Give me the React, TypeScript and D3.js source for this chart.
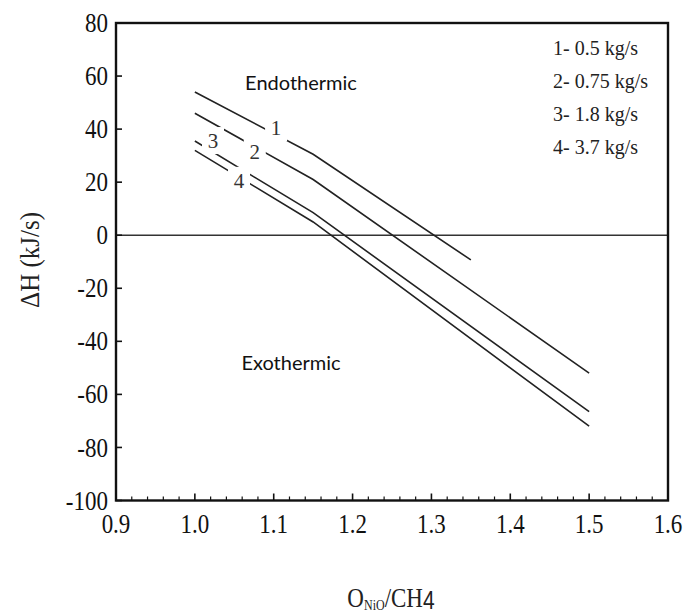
import React from "react";
import * as d3 from "d3";

const xTicks = [0.9, 1.0, 1.1, 1.2, 1.3, 1.4, 1.5, 1.6];
const yTicks = [80, 60, 40, 20, 0, -20, -40, -60, -80, -100];

const series1X = [1.0, 1.15, 1.35];
const series1Y = [54, 30.5, -9.3];
const series2X = [1.0, 1.15, 1.5];
const series2Y = [46, 21, -52];
const series3X = [1.0, 1.15, 1.5];
const series3Y = [35.5, 8.5, -66.5];
const series4X = [1.0, 1.15, 1.5];
const series4Y = [32, 5, -72];

const curveLabels = ["1", "2", "3", "4"];
const curveLabelX = [1.103, 1.076, 1.023, 1.056];
const curveLabelY = [40.4, 31.4, 35.5, 20.5];

const legendItems = ["1- 0.5 kg/s", "2- 0.75 kg/s", "3- 1.8 kg/s", "4- 3.7 kg/s"];

export default function App() {
  const W = 687, H = 615;
  const left = 116, right = 668, top = 23, bottom = 500.5;
  const x = d3.scaleLinear().domain([0.9, 1.6]).range([left, right]);
  const y = d3.scaleLinear().domain([-100, 80]).range([bottom, top]);
  const line = d3.line<[number, number]>().x(d => x(d[0])).y(d => y(d[1]));

  const seriesX = [series1X, series2X, series3X, series4X];
  const seriesY = [series1Y, series2Y, series3Y, series4Y];
  const paths = seriesX.map((xs, i) => line(xs.map((v, j) => [v, seriesY[i][j]]) as [number, number][]));

  const minorTicks = d3.range(0, 36).map(i => 0.9 + i * 0.02).filter(v => Math.abs(Math.round(v * 10) - v * 10) > 1e-6);

  const serif = "'Liberation Serif', 'Times New Roman', serif";
  const sans = "Lato, 'Open Sans', sans-serif";

  return (
    <svg width={W} height={H} style={{ position: "absolute", left: 0, top: 0, display: "block", background: "#fff" }}>
      <line x1={left} x2={right} y1={y(0)} y2={y(0)} stroke="#333" strokeWidth={1.5} />
      {paths.map((p, i) => (
        <path key={i} d={p || ""} fill="none" stroke="#222" strokeWidth={1.6} />
      ))}
      {curveLabels.map((t, i) => (
        <g key={t}>
          <rect x={x(curveLabelX[i]) - 11} y={y(curveLabelY[i]) - 14} width={22} height={27} fill="#fff" />
          <text x={x(curveLabelX[i])} y={y(curveLabelY[i])} textAnchor="middle" dominantBaseline="central"
            fontFamily={serif} fontSize={21} fill="#333">{t}</text>
        </g>
      ))}
      <rect x={left} y={top} width={right - left} height={bottom - top} fill="none" stroke="#111" strokeWidth={2.4} />
      {yTicks.map(v => (
        <g key={v}>
          <line x1={left} x2={left + 6} y1={y(v)} y2={y(v)} stroke="#111" strokeWidth={1.6} />
          <text transform={`translate(108, ${y(v)}) scale(1, 1.15)`} textAnchor="end" dominantBaseline="central"
            fontFamily={serif} fontSize={23} fill="#111">{v}</text>
        </g>
      ))}
      {xTicks.map(v => (
        <g key={v}>
          <line x1={x(v)} x2={x(v)} y1={bottom} y2={bottom - 7} stroke="#111" strokeWidth={1.6} />
          <text transform={`translate(${x(v)}, 524) scale(1, 1.15)`} textAnchor="middle" dominantBaseline="central"
            fontFamily={serif} fontSize={23} fill="#111">{v.toFixed(1)}</text>
        </g>
      ))}
      {minorTicks.map(v => (
        <line key={v} x1={x(v)} x2={x(v)} y1={bottom} y2={bottom - 4} stroke="#111" strokeWidth={1.2} />
      ))}
      <text x={301} y={82} textAnchor="middle" dominantBaseline="central" fontFamily={sans} fontSize={20} fill="#111">Endothermic</text>
      <text x={291} y={362} textAnchor="middle" dominantBaseline="central" fontFamily={sans} fontSize={20} fill="#111">Exothermic</text>
      {legendItems.map((t, i) => (
        <text key={t} x={553} y={48 + i * 33} dominantBaseline="central" fontFamily={serif} fontSize={20} fill="#222">{t}</text>
      ))}
      <text transform={`translate(30, 260) rotate(-90) scale(1, 1.1)`} textAnchor="middle" dominantBaseline="central"
        fontFamily={serif} fontSize={25} fill="#222">ΔH (kJ/s)</text>
      <text transform="translate(391, 597) scale(1, 1.2)" textAnchor="middle" dominantBaseline="central" fontFamily={serif} fontSize={23} fill="#222">
        O<tspan fontSize={12} dy={6}>NiO</tspan><tspan dy={-6}>/CH</tspan><tspan fontFamily="'Liberation Sans', Arial, sans-serif" fontSize={21} dy={3}>4</tspan>
      </text>
    </svg>
  );
}
